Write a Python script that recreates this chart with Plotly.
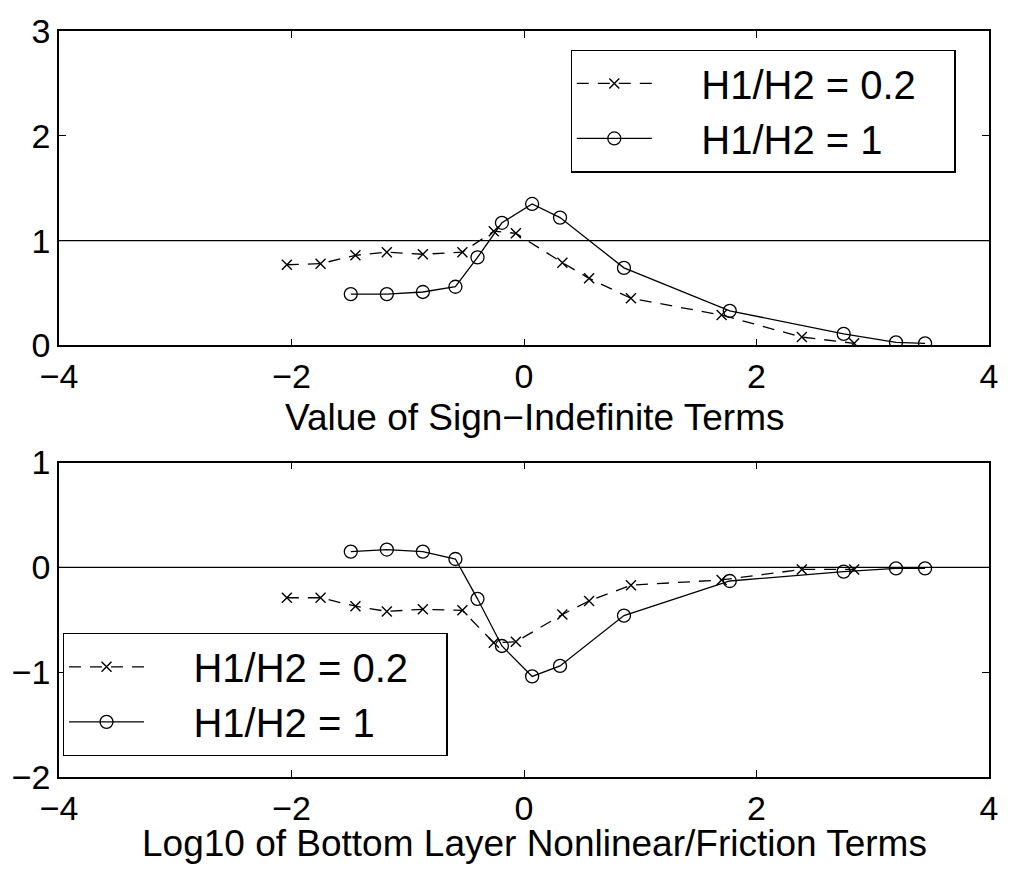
import plotly.graph_objects as go
from plotly.subplots import make_subplots

# Abscissa values for the two depth ratios
x_ratio02 = [-2.04, -1.75, -1.45, -1.18, -0.87, -0.53, -0.26, -0.07, 0.33, 0.56, 0.92, 1.70, 2.39, 2.84]
x_ratio1 = [-1.49, -1.18, -0.87, -0.59, -0.40, -0.19, 0.07, 0.31, 0.86, 1.77, 2.75, 3.20, 3.45]

# Upper panel: value of sign-indefinite terms
top_ratio02 = [0.77, 0.78, 0.86, 0.89, 0.87, 0.89, 1.09, 1.07, 0.79, 0.64, 0.45, 0.29, 0.08, 0.02]
top_ratio1 = [0.49, 0.49, 0.51, 0.56, 0.84, 1.17, 1.35, 1.22, 0.74, 0.33, 0.11, 0.03, 0.02]

# Lower panel
bot_ratio02 = [-0.29, -0.29, -0.37, -0.42, -0.40, -0.41, -0.72, -0.71, -0.45, -0.32, -0.17, -0.12, -0.02, -0.02]
bot_ratio1 = [0.15, 0.17, 0.15, 0.08, -0.30, -0.75, -1.04, -0.94, -0.46, -0.13, -0.04, -0.01, -0.01]

names = ["H1/H2 = 0.2", "H1/H2 = 1"]
x_ticks = [-4, -2, 0, 2, 4]
top_yticks = [0, 1, 2, 3]
bot_yticks = [-2, -1, 0, 1]
x_titles = ["Value of Sign\u2212Indefinite Terms", "Log10 of Bottom Layer Nonlinear/Friction Terms"]

FONT = "Liberation Sans, Arial, Helvetica, sans-serif"
NB = "\u00a0"

fig = make_subplots(rows=2, cols=1, vertical_spacing=0.157)

dash_style = dict(color="black", width=1.3, dash="12px,9px")
solid_style = dict(color="black", width=1.3)
x_marker = dict(symbol="x-thin-open", size=10, color="black", line=dict(color="black", width=1.4))
o_marker = dict(symbol="circle-open", size=13, color="black", line=dict(color="black", width=1.3))

# legend labels padded so the text sits clear of the line sample
legend_labels = [NB * 4 + names[0] + NB * 3, NB * 4 + names[1]]

panels = [(1, top_ratio02, top_ratio1, "legend"), (2, bot_ratio02, bot_ratio1, "legend2")]
for row, y02, y1, leg in panels:
    fig.add_trace(go.Scatter(x=x_ratio02, y=y02, mode="lines+markers", name=legend_labels[0],
                             line=dash_style, marker=x_marker, legend=leg), row=row, col=1)
    fig.add_trace(go.Scatter(x=x_ratio1, y=y1, mode="lines+markers", name=legend_labels[1],
                             line=solid_style, marker=o_marker, legend=leg), row=row, col=1)

# Reference lines at 1 (upper) and 0 (lower)
fig.add_shape(type="line", xref="x domain", yref="y", x0=0, x1=1, y0=1, y1=1,
              line=dict(color="black", width=1.2))
fig.add_shape(type="line", xref="x2 domain", yref="y2", x0=0, x1=1, y0=0, y1=0,
              line=dict(color="black", width=1.2))

axis_common = dict(showline=True, linecolor="black", linewidth=1.5, mirror="ticks",
                   ticks="inside", ticklen=7, tickwidth=1.3, tickcolor="black",
                   showgrid=False, zeroline=False,
                   tickfont=dict(family=FONT, size=34, color="black"))

for i, (yr, yt) in enumerate([([0, 3], top_yticks), ([-2, 1], bot_yticks)], start=1):
    fig.update_xaxes(range=[-4, 4], tickvals=x_ticks, row=i, col=1, **axis_common)
    fig.update_yaxes(range=yr, tickvals=yt, row=i, col=1, **axis_common)

# x-axis titles placed under the tick labels
for text, ypos in zip(x_titles, [0.4815, -0.089]):
    fig.add_annotation(text=text, xref="paper", yref="paper", x=0.511, y=ypos,
                       xanchor="center", yanchor="middle", showarrow=False,
                       font=dict(family=FONT, size=37, color="black"))

legend_common = dict(xanchor="left", yanchor="top", bordercolor="black", borderwidth=1.3,
                     bgcolor="white", font=dict(family=FONT, size=40, color="black"),
                     itemwidth=75)

fig.update_layout(
    width=1016, height=870,
    margin=dict(l=55, r=27, t=21, b=93),
    paper_bgcolor="white", plot_bgcolor="white",
    font=dict(family=FONT, color="black"),
    legend=dict(x=0.55, y=0.975, **legend_common),
    legend2=dict(x=0.004, y=0.193, **legend_common),
)

fig.write_html("out.html")
